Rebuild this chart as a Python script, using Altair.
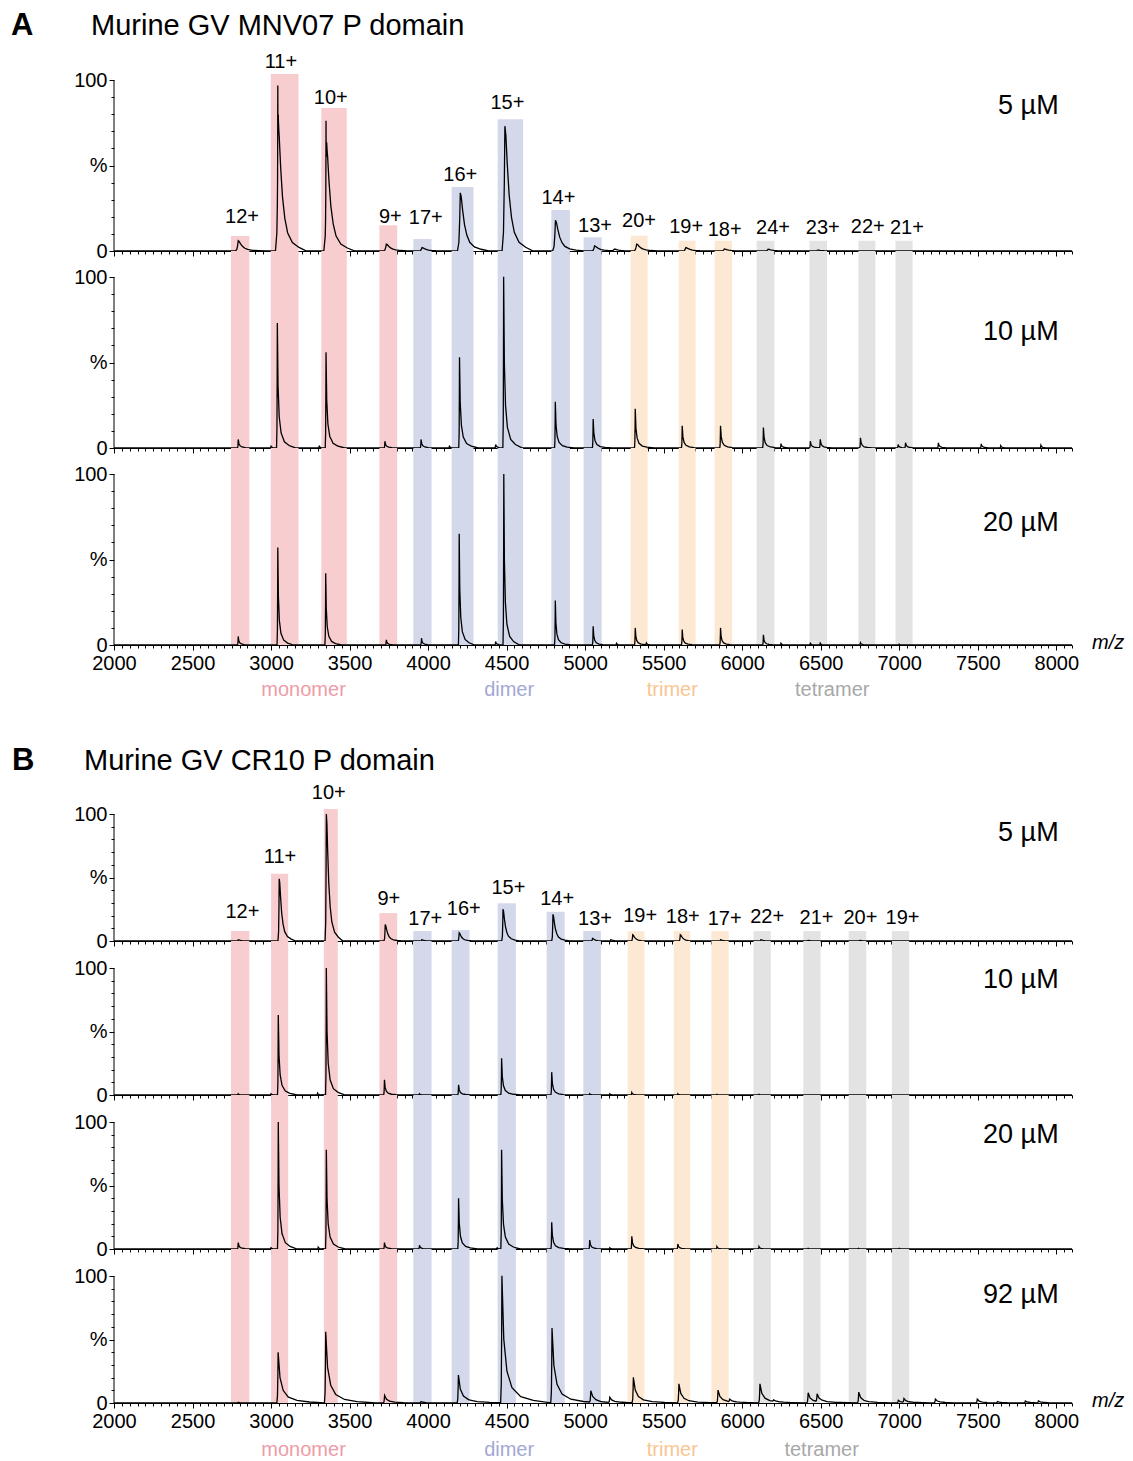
import altair as alt
import numpy as np
import pandas as pd

FONT = "Liberation Sans"
X_MIN, X_MAX = 2000, 8100
PLOT_W = 958

GROUPS = ["monomer", "dimer", "trimer", "tetramer"]
GROUP_FILL = {"monomer": "#f7cdd0", "dimer": "#d4d8eb", "trimer": "#fde9d3", "tetramer": "#e3e3e3"}
GROUP_TEXT = {"monomer": "#ee9ca7", "dimer": "#a3a9d4", "trimer": "#f7c691", "tetramer": "#a8a8a8"}

# ---------------- Panel A (MNV07) ----------------
A_CHARGE = ["12+", "11+", "10+", "9+", "17+", "16+", "15+", "14+", "13+",
            "20+", "19+", "18+", "24+", "23+", "22+", "21+"]
A_GROUP = ["monomer", "monomer", "monomer", "monomer",
           "dimer", "dimer", "dimer", "dimer", "dimer",
           "trimer", "trimer", "trimer",
           "tetramer", "tetramer", "tetramer", "tetramer"]
A_START = [2745, 2998, 3320, 3690, 3906, 4150, 4443, 4785, 4990, 5290, 5596, 5824, 6092, 6428, 6740, 6976]
A_END = [2862, 3175, 3482, 3803, 4022, 4289, 4605, 4903, 5105, 5398, 5703, 5936, 6205, 6540, 6848, 7085]
A_TOP = [8.8, 103.5, 83.6, 15, 7, 37.4, 77, 24, 8, 9, 6, 6, 6, 6, 6, 6]
A_LABEL_X = [2815, 3063, 3380, 3760, 3985, 4205, 4505, 4830, 5063, 5343, 5643, 5888, 6196, 6513, 6800, 7049]
A_LABEL_Y = [19.9, 110.5, 89.5, 19.9, 19.3, 44.4, 86.5, 31, 14.6, 17.5, 14, 12.3, 13.5, 13.5, 14, 13.5]
A_GROUP_LABEL_X = [3207, 4516, 5555, 6573]

# ---------------- Panel B (CR10) ----------------
B_CHARGE = ["12+", "11+", "10+", "9+", "17+", "16+", "15+", "14+", "13+",
            "19+", "18+", "17+", "22+", "21+", "20+", "19+"]
B_GROUP = A_GROUP
B_START = [2745, 3000, 3336, 3690, 3906, 4150, 4443, 4755, 4988, 5270, 5564, 5804, 6072, 6389, 6678, 6953]
B_END = [2862, 3109, 3425, 3803, 4022, 4264, 4559, 4870, 5100, 5378, 5669, 5914, 6182, 6499, 6790, 7063]
B_TOP = [7.8, 53, 104, 22, 7.8, 8.6, 29.7, 23, 7.8, 7.8, 7.8, 7.8, 7.8, 7.8, 7.8, 7.8]
B_LABEL_X = [2818, 3057, 3368, 3750, 3982, 4227, 4511, 4822, 5063, 5350, 5622, 5888, 6159, 6473, 6753, 7021]
B_LABEL_Y = [22.7, 66.4, 116.4, 32.8, 17.2, 25, 41.4, 32.8, 17.2, 19.5, 18.8, 17.2, 18.8, 18, 18, 18]
B_GROUP_LABEL_X = [3207, 4516, 5555, 6506]

CONC_A = ["5 µM", "10 µM", "20 µM"]
CONC_A_Y = [84.8, 67.8, 71.3]
CONC_B = ["5 µM", "10 µM", "20 µM", "92 µM"]
CONC_B_Y = [85, 90.5, 89.8, 85]

# ---------------- Spectra: peak apex m/z, height (%) ----------------
A1_MZ = [2791, 3046, 3354, 3734, 3961, 4205, 4489, 4811, 5060, 5186, 5328, 5641, 5886, 6165, 6480]
A1_H = [6, 70, 58, 4, 2, 34, 73, 18, 3, 1, 4, 2, 1.2, 1, 0.5]
A1_SPIKE_MZ = [3043, 3350]
A1_SPIKE_H = [53, 46]

A2_MZ = [2791, 3000, 3040, 3307, 3350, 3725, 3955, 4136, 4200, 4430, 4481, 4810, 5051, 5319, 5618,
         5862, 6135, 6247, 6434, 6497, 6753, 6993, 7040, 7249, 7522, 7646, 7902]
A2_H = [5, 1, 73, 1, 56, 4, 5, 1, 53, 2, 100, 27, 17, 23, 13, 13, 12, 2.5, 4, 5, 6, 2, 3, 3, 2.4, 1.4, 1.6]

A3_MZ = [2791, 3043, 3348, 3734, 3958, 4198, 4430, 4482, 4810, 5051, 5200, 5319, 5390, 5618, 5862,
         6135, 6247, 6434, 6497, 6753, 7000]
A3_H = [5, 57, 42, 3, 4, 65, 2, 100, 26, 11, 1, 10, 1, 9, 10, 6, 1, 1, 1, 1.3, 0.5]

B1_MZ = [2791, 3052, 3352, 3727, 3960, 4198, 4477, 4795, 5047, 5163, 5303, 5606, 5862, 6119, 6420, 6750]
B1_H = [1, 49, 100, 13, 1, 6.5, 25, 21, 2, 1, 5, 5, 1, 1, 0.5, 0.5]

B2_MZ = [2791, 3000, 3046, 3296, 3352, 3722, 3945, 4194, 4468, 4787, 5029, 5157, 5297, 5590, 5839, 6107]
B2_H = [1, 1, 63, 1.5, 100, 12, 1, 8, 29, 18, 1, 1, 2, 1, 0.5, 0.5]

B3_MZ = [2791, 3000, 3046, 3300, 3352, 3722, 3945, 4194, 4440, 4468, 4787, 5029, 5157, 5297, 5590,
         5839, 6107, 6420, 6740, 7000]
B3_H = [5, 1, 100, 1.5, 78, 5, 3, 40, 1, 78, 21, 7, 1, 10, 4, 2, 2, 0.5, 0.5, 0.5]

B4_MZ = [2791, 3045, 3348, 3723, 3955, 4193, 4470, 4789, 5036, 5157, 5307, 5597, 5846, 5920, 6113,
         6200, 6420, 6477, 6742, 6994, 7030, 7230, 7497, 7625, 7803, 7886]
B4_H = [0.5, 40, 56, 6, 1, 22, 100, 59, 9, 4, 20, 15, 10, 2, 15, 1, 8, 6, 8.5, 2, 3, 3, 3, 1, 1.5, 1.5]

# typical peak outlines (rise in units of r, tail in units of w)
RISE_T = [-1.0, -0.5, -0.2]
RISE_Y = [0.0, 0.15, 0.55]
SHARP_T = [0.15, 0.4, 0.8, 1.5, 2.5, 4.0]
SHARP_Y = [0.5, 0.25, 0.12, 0.05, 0.02, 0.0]
BROAD_T = [0.1, 0.25, 0.45, 0.7, 1.0, 1.5, 2.2, 3.0]
BROAD_Y = [0.93, 0.7, 0.45, 0.27, 0.15, 0.07, 0.03, 0.0]


def spectrum(*components):
    """components: (mz list, height list, rise r, tail w, tail_t, tail_y)"""
    pts = {X_MIN, X_MAX}
    for mz, h, r, w, tt, ty in components:
        for m in mz:
            for t in RISE_T:
                pts.add(m + t * r)
            pts.add(m)
            for t in tt:
                pts.add(m + t * w)
    xs = np.array(sorted(p for p in pts if X_MIN <= p <= X_MAX), dtype=float)
    ys = np.zeros_like(xs)
    for mz, h, r, w, tt, ty in components:
        for m, hi in zip(mz, h):
            dx = xs - m
            prof = np.where(dx < 0,
                            np.interp(dx / r, RISE_T + [0.0], RISE_Y + [1.0]),
                            np.interp(dx / w, [0.0] + tt, [1.0] + ty))
            ys += hi * prof
    return pd.DataFrame({"x": xs, "y": ys})


def x_axis(labels):
    return alt.Axis(values=list(range(2000, 8101, 50)), labels=labels, format="d",
                    labelExpr="datum.value % 500 === 0 ? datum.label : ''",
                    tickSize={"condition": {"test": "datum.value % 500 === 0", "value": 5}, "value": 3},
                    tickColor="black", domainColor="black", tickWidth=1, domainWidth=1,
                    labelFont=FONT, labelFontSize=20, labelColor="black", labelPadding=3,
                    labelOverlap=False, labelFlush=False, title=None, grid=False)


Y_AXIS = alt.Axis(values=list(range(0, 101, 10)), domain=False,
                  labelExpr="datum.value === 50 ? '%' : (datum.value % 100 === 0 ? datum.label : '')",
                  tickSize={"condition": {"test": "datum.value % 50 === 0", "value": 5}, "value": 3},
                  tickColor="black", tickWidth=1,
                  labelFont=FONT, labelFontSize=20, labelColor="black", labelPadding=2,
                  labelOverlap=False, labelFlush=False, title=None, grid=False)


def text(**kw):
    base = dict(font=FONT, fontSize=20, color="black")
    base.update(kw)
    return base


def spec_chart(spec_df, height, ydom, top_bands, starts, ends, groups, xlabels, conc, conc_y, extras):
    X = alt.X("x:Q", scale=alt.Scale(domain=[X_MIN, X_MAX], nice=False, zero=False), axis=x_axis(xlabels))
    Y = alt.Y("y:Q", scale=alt.Scale(domain=[0, ydom], nice=False, zero=False), axis=Y_AXIS)
    tops = top_bands if top_bands is not None else [ydom] * len(starts)
    bdf = pd.DataFrame({"x": starts, "x2": ends, "y": [0] * len(starts), "y2": tops,
                        "fill": [GROUP_FILL[g] for g in groups]})
    layers = [
        alt.Chart(bdf).mark_rect().encode(x=X, x2="x2:Q", y=Y, y2="y2:Q",
                                          color=alt.Color("fill:N", scale=None)),
        alt.Chart(pd.DataFrame({"x": [X_MIN], "y": [0], "y2": [100]})).mark_rule(
            color="black", strokeWidth=1).encode(x=X, y=Y, y2="y2:Q"),
        alt.Chart(spec_df).mark_line(color="black", strokeWidth=1.3).encode(x=X, y=Y),
        alt.Chart(pd.DataFrame({"x": [8015], "y": [conc_y], "t": [conc]})).mark_text(
            **text(fontSize=27, align="right", baseline="middle")).encode(x=X, y=Y, text="t:N"),
    ]
    for fn in extras:
        layers.append(fn(X, Y))
    return alt.layer(*layers).properties(width=PLOT_W, height=height)


def charge_labels(xs, ys, labels):
    df = pd.DataFrame({"x": xs, "y": ys, "t": labels})
    return lambda X, Y: alt.Chart(df).mark_text(**text(baseline="middle")).encode(x=X, y=Y, text="t:N")


def group_labels(xs, ypix):
    df = pd.DataFrame({"x": xs, "t": GROUPS, "c": [GROUP_TEXT[g] for g in GROUPS]})
    return lambda X, Y: alt.Chart(df).mark_text(**text(baseline="middle")).encode(
        x=X, y=alt.value(ypix), text="t:N", color=alt.Color("c:N", scale=None))


def const_text(label, xpix, ypix, **kw):
    return lambda X, Y: alt.Chart(pd.DataFrame({"a": [0]})).mark_text(
        text=label, **text(**kw)).encode(x=alt.value(xpix), y=alt.value(ypix))


A_H, A_GAP = 171, 26
B_H, B_GAP = 127, 27
AB_GAP = 169

a_low_h = A_H + A_GAP
a_low_dom = 100 * a_low_h / A_H
b_low_h = B_H + B_GAP
b_low_dom = 100 * b_low_h / B_H
b_top_h = B_H + AB_GAP
b_top_dom = 100 * b_top_h / B_H

spec_A1 = spectrum((A1_MZ, A1_H, 18, 60, BROAD_T, BROAD_Y),
                   (A1_SPIKE_MZ, A1_SPIKE_H, 3, 5, SHARP_T, SHARP_Y))
spec_A2 = spectrum((A2_MZ, A2_H, 5, 30, SHARP_T, SHARP_Y))
spec_A3 = spectrum((A3_MZ, A3_H, 5, 25, SHARP_T, SHARP_Y))
spec_B1 = spectrum((B1_MZ, B1_H, 8, 35, BROAD_T, BROAD_Y))
spec_B2 = spectrum((B2_MZ, B2_H, 5, 30, SHARP_T, SHARP_Y))
spec_B3 = spectrum((B3_MZ, B3_H, 5, 30, SHARP_T, SHARP_Y))
spec_B4 = spectrum((B4_MZ, B4_H, 8, 80, SHARP_T, SHARP_Y))

A1 = spec_chart(spec_A1, A_H, 100, A_TOP, A_START, A_END, A_GROUP, False,
                CONC_A[0], CONC_A_Y[0],
                [charge_labels(A_LABEL_X, A_LABEL_Y, A_CHARGE),
                 const_text("A", -103, -45, fontSize=31, fontWeight="bold", align="left", baseline="alphabetic"),
                 const_text("Murine GV MNV07 P domain", -23, -45, fontSize=29, align="left", baseline="alphabetic")])
A2 = spec_chart(spec_A2, a_low_h, a_low_dom, None, A_START, A_END, A_GROUP, False,
                CONC_A[1], CONC_A_Y[1], [])
A3 = spec_chart(spec_A3, a_low_h, a_low_dom, None, A_START, A_END, A_GROUP, True,
                CONC_A[2], CONC_A_Y[2],
                [group_labels(A_GROUP_LABEL_X, a_low_h + 45),
                 const_text("m/z", 978, a_low_h - 2, fontStyle="italic", align="left", baseline="middle")])

B1 = spec_chart(spec_B1, b_top_h, b_top_dom, B_TOP, B_START, B_END, B_GROUP, False,
                CONC_B[0], CONC_B_Y[0],
                [charge_labels(B_LABEL_X, B_LABEL_Y, B_CHARGE),
                 const_text("B", -102, AB_GAP - 44, fontSize=31, fontWeight="bold", align="left", baseline="alphabetic"),
                 const_text("Murine GV CR10 P domain", -30, AB_GAP - 44, fontSize=29, align="left", baseline="alphabetic")])
B2 = spec_chart(spec_B2, b_low_h, b_low_dom, None, B_START, B_END, B_GROUP, False,
                CONC_B[1], CONC_B_Y[1], [])
B3 = spec_chart(spec_B3, b_low_h, b_low_dom, None, B_START, B_END, B_GROUP, False,
                CONC_B[2], CONC_B_Y[2], [])
B4 = spec_chart(spec_B4, b_low_h, b_low_dom, None, B_START, B_END, B_GROUP, True,
                CONC_B[3], CONC_B_Y[3],
                [group_labels(B_GROUP_LABEL_X, b_low_h + 47),
                 const_text("m/z", 978, b_low_h - 2, fontStyle="italic", align="left", baseline="middle")])

chart = alt.vconcat(A1, A2, A3, B1, B2, B3, B4, spacing=0, bounds="flush").resolve_scale(
    x="independent", y="independent"
).properties(
    padding={"left": 11, "top": 10, "right": 4, "bottom": 2},
    background="white"
).configure_view(strokeWidth=0, stroke=None)

chart.save("out.html", embed_options={"renderer": "svg", "actions": False})
